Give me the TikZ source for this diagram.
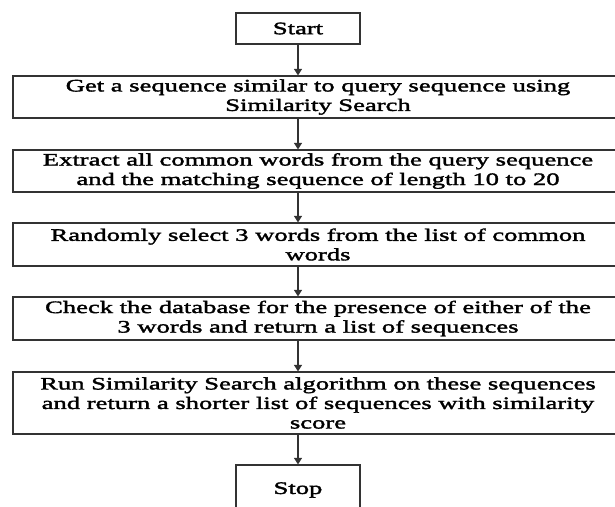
\documentclass[tikz,border=0pt]{standalone}
\usepackage{fontspec}
\setmainfont[FakeStretch=1.52,FakeBold=2]{Liberation Serif}
\usepackage{tikz}
\usetikzlibrary{arrows.meta, positioning, calc}

\begin{document}
\begin{tikzpicture}[x=1pt, y=1pt,
    term/.style={draw=black!80, line width=1.2pt, minimum width=124, inner sep=1pt, font=\fontsize{17.5}{19.5}\selectfont},
    stage/.style={draw=black!80, line width=1.2pt, minimum width=610, inner sep=1pt, align=center, font=\fontsize{17.5}{19.5}\selectfont},
    flow/.style={draw=black!80, line width=1.1pt, -{Triangle[width=8pt, length=6.5pt]}}]
    \clip (0,0) rectangle (615,-506);
    \node[term, minimum height=31] (start) at (298,-28.5) {Start};
    \node[stage, minimum height=42] (search) at (318,-97) {Get a sequence similar to query sequence using\\Similarity Search};
    \node[stage, minimum height=42] (extract) at (318,-171) {Extract all common words from the query sequence\\and the matching sequence of length 10 to 20};
    \node[stage, minimum height=43] (select) at (318,-244.5) {Randomly select 3 words from the list of common\\words};
    \node[stage, minimum height=43] (check) at (318,-318.5) {Check the database for the presence of either of the\\3 words and return a list of sequences};
    \node[stage, minimum height=62] (rank) at (318,-403) {Run Similarity Search algorithm on these sequences\\and return a shorter list of sequences with similarity\\score};
    \node[term, minimum height=50] (stop) at (298,-490) {Stop};

    \draw[flow] (start) -- (start |- search.north);
    \draw[flow] (start |- search.south) -- (start |- extract.north);
    \draw[flow] (start |- extract.south) -- (start |- select.north);
    \draw[flow] (start |- select.south) -- (start |- check.north);
    \draw[flow] (start |- check.south) -- (start |- rank.north);
    \draw[flow] (start |- rank.south) -- (stop);
\end{tikzpicture}
\end{document}
